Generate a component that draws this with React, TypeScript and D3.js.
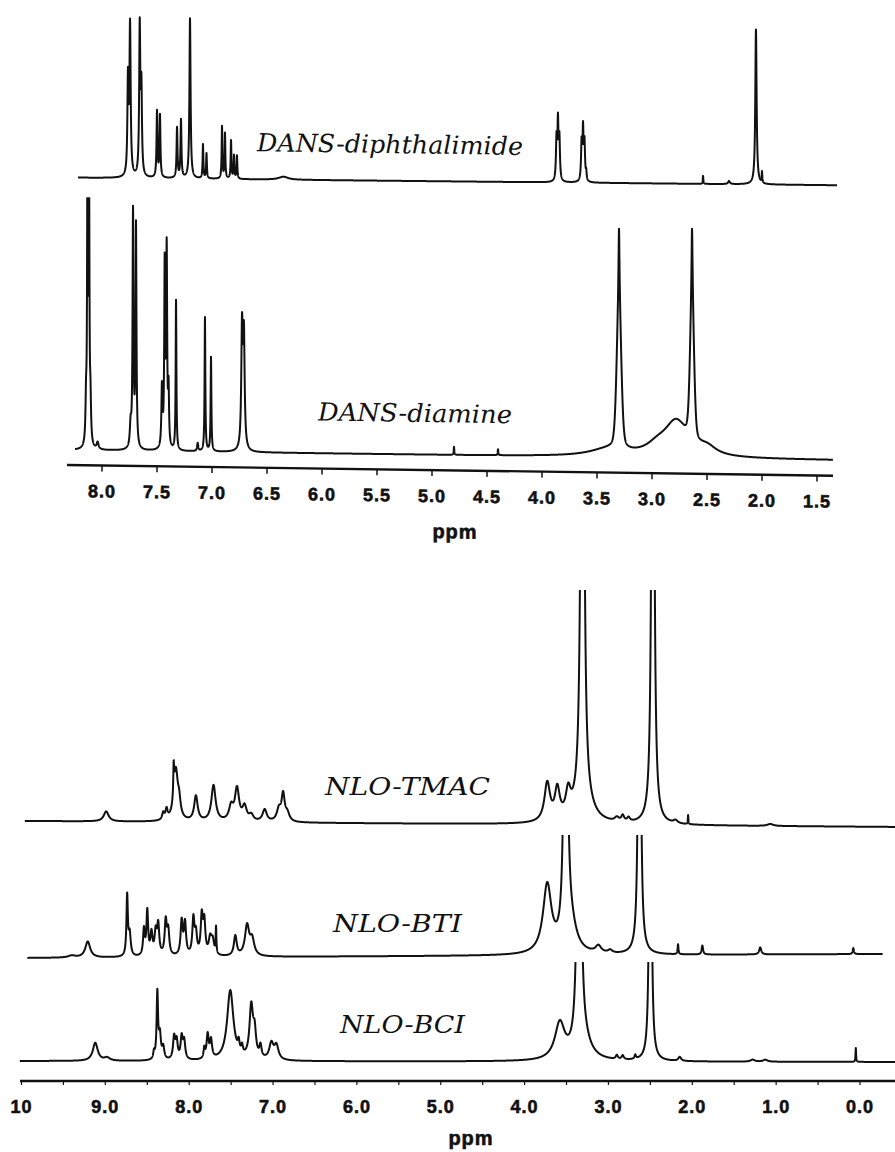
import React, { useEffect, useRef } from 'react'
import * as d3 from 'd3'

// peak lists: [ppm, height, half width (ppm), lorentz fraction]
type Peak = [number, number, number, number?]

const diphthalimidePeaks: Peak[] = [
  [7.764, 95, 0.006], [7.745, 150, 0.0065], [7.657, 148, 0.006], [7.642, 85, 0.006],
  [7.5, 66, 0.005], [7.473, 62, 0.005], [7.318, 50, 0.005], [7.282, 58, 0.005],
  [7.2, 160, 0.006], [7.082, 34, 0.004], [7.05, 25, 0.004], [6.909, 52, 0.004],
  [6.882, 45, 0.004], [6.827, 38, 0.004], [6.8, 23, 0.004], [6.773, 23, 0.004],
  [6.35, 3, 0.05],
  [3.868, 42, 0.006], [3.855, 55, 0.005], [3.842, 42, 0.006],
  [3.64, 38, 0.006], [3.627, 48, 0.005], [3.614, 38, 0.006], [3.598, 8, 0.004],
  [2.536, 8, 0.003], [2.3, 3, 0.01], [2.055, 155, 0.007], [2.0, 11, 0.003],
]

const diaminePeaks: Peak[] = [
  [8.145, 40, 0.006], [8.132, 300, 0.004], [8.118, 300, 0.004], [8.105, 40, 0.006],
  [8.04, 7, 0.01], [7.74, 22, 0.008], [7.718, 235, 0.005], [7.691, 222, 0.005],
  [7.455, 60, 0.006], [7.43, 180, 0.005], [7.412, 195, 0.005], [7.395, 55, 0.005],
  [7.327, 150, 0.004], [7.13, 8, 0.006], [7.064, 134, 0.004], [7.009, 94, 0.004],
  [6.727, 120, 0.008], [6.71, 110, 0.008],
  [4.8, 8, 0.003], [4.4, 6, 0.003],
  [3.4, 7, 0.2], [3.3, 70, 0.005], [3.3, 150, 0.024, 0.3],
  [2.95, 8, 0.12], [2.78, 34, 0.13],
  [2.636, 65, 0.005], [2.636, 145, 0.021, 0.3], [2.5, 8, 0.1],
]

const tmacPeaks: Peak[] = [
  [8.99, 10, 0.035], [8.31, 7, 0.015], [8.27, 10, 0.015], [8.185, 30, 0.006],
  [8.16, 50, 0.03], [8.12, 14, 0.02], [7.92, 25, 0.025], [7.71, 36, 0.03],
  [7.5, 14, 0.03], [7.43, 32, 0.03], [7.34, 14, 0.03], [7.26, 6, 0.03],
  [7.1, 12, 0.03], [6.93, 12, 0.03], [6.88, 26, 0.022], [6.83, 8, 0.03],
  [3.73, 38, 0.04], [3.61, 30, 0.035], [3.48, 24, 0.035], [3.3, 20, 0.12],
  [3.31, 1000, 0.016], [2.9, 4, 0.03], [2.83, 6, 0.02], [2.76, 4, 0.02],
  [2.47, 900, 0.014], [2.2, 3, 0.03], [2.05, 9, 0.004], [1.07, 2, 0.04],
]

const btiPeaks: Peak[] = [
  [9.4, 2, 0.05], [9.21, 16, 0.035], [8.74, 60, 0.01], [8.71, 22, 0.015],
  [8.54, 26, 0.012], [8.5, 44, 0.012], [8.45, 22, 0.015], [8.4, 22, 0.015],
  [8.37, 30, 0.015], [8.28, 34, 0.015], [8.25, 24, 0.015], [8.09, 34, 0.015],
  [8.05, 32, 0.015], [7.95, 36, 0.015], [7.92, 20, 0.015], [7.85, 38, 0.015],
  [7.82, 32, 0.015], [7.75, 16, 0.02], [7.72, 14, 0.02], [7.68, 26, 0.005],
  [7.45, 20, 0.02], [7.31, 30, 0.03], [7.25, 16, 0.03],
  [3.73, 68, 0.06], [3.45, 25, 0.08], [3.51, 600, 0.017], [3.12, 7, 0.04],
  [2.98, 3, 0.03], [2.63, 700, 0.012], [2.17, 10, 0.006], [1.88, 9, 0.01],
  [1.19, 7, 0.015], [0.08, 6, 0.008],
]

const bciPeaks: Peak[] = [
  [9.12, 18, 0.035], [8.98, 3, 0.04], [8.42, 7, 0.01], [8.38, 66, 0.01],
  [8.35, 24, 0.015], [8.31, 12, 0.015], [8.18, 22, 0.015], [8.15, 18, 0.015],
  [8.09, 22, 0.015], [8.06, 18, 0.015], [7.82, 10, 0.01], [7.78, 24, 0.015],
  [7.74, 18, 0.015], [7.51, 70, 0.045], [7.41, 10, 0.012], [7.37, 8, 0.012],
  [7.26, 52, 0.025], [7.22, 24, 0.02], [7.15, 12, 0.015], [7.02, 16, 0.03],
  [6.96, 14, 0.03],
  [3.58, 36, 0.07], [3.3, 18, 0.1], [3.35, 600, 0.0176], [2.9, 4, 0.015],
  [2.83, 4, 0.015], [2.68, 4, 0.01], [2.5, 600, 0.011], [2.15, 4, 0.02],
  [1.28, 2, 0.03], [1.13, 2, 0.03], [0.05, 14, 0.004],
]

const topTicks = [8.0, 7.5, 7.0, 6.5, 6.0, 5.5, 5.0, 4.5, 4.0, 3.5, 3.0, 2.5, 2.0, 1.5]
const bottomTicks = [10, 9, 8, 7, 6, 5, 4, 3, 2, 1, 0]
const bottomTickLabels = ['10', '9.0', '8.0', '7.0', '6.0', '5.0', '4.0', '3.0', '2.0', '1.0', '0.0']
const bottomMinorTicks = [9.5, 8.5, 7.5, 6.5, 5.5, 4.5, 3.5, 2.5, 1.5, 0.5]

type Spectrum = {
  id: string
  label: string
  peaks: Peak[]
  from: number
  to: number
  yLeft: number
  yRight: number
  clipTop?: number
  labelX: number
  labelY: number
  labelW: number
}

function intensity(peaks: Peak[], p: number) {
  let v = 0
  for (const [c, h, w, eta = 1] of peaks) {
    const d2 = (p - c) * (p - c)
    const lor = (w * w) / (w * w + d2)
    const gau = Math.exp((-Math.LN2 * d2) / (w * w))
    v += h * (eta * lor + (1 - eta) * gau)
  }
  return v
}

function sample(peaks: Peak[], from: number, to: number) {
  const pts: [number, number][] = []
  for (let p = from; p > to; p -= 0.001) pts.push([p, intensity(peaks, p)])
  pts.push([to, intensity(peaks, to)])
  return pts
}

const serif = '"DejaVu Serif", "Liberation Serif", serif'
const sans = '"Liberation Sans", Arial, sans-serif'
const ink = '#111'

export default function App() {
  const ref = useRef<SVGSVGElement>(null)

  useEffect(() => {
    const svg = d3.select(ref.current)
    svg.selectAll('*').remove()
    const defs = svg.append('defs')

    const drawSpectrum = (g: d3.Selection<SVGGElement, unknown, null, undefined>,
      x: d3.ScaleLinear<number, number>, s: Spectrum) => {
      const base = d3.scaleLinear().domain([s.from, s.to]).range([s.yLeft, s.yRight])
      const line = d3.line<[number, number]>()
        .x(d => x(d[0]))
        .y(d => base(d[0]) - d[1])
      const path = g.append('path')
        .datum(sample(s.peaks, s.from, s.to))
        .attr('d', line)
        .attr('fill', 'none')
        .attr('stroke', ink)
        .attr('stroke-width', 2)
        .attr('stroke-linejoin', 'round')
      if (s.clipTop !== undefined) {
        defs.append('clipPath').attr('id', 'clip-' + s.id)
          .append('rect')
          .attr('x', 0).attr('y', s.clipTop)
          .attr('width', 900).attr('height', 1200)
        path.attr('clip-path', `url(#clip-${s.id})`)
      }
      g.append('text')
        .attr('x', s.labelX)
        .attr('y', s.labelY)
        .attr('textLength', s.labelW)
        .attr('lengthAdjust', 'spacingAndGlyphs')
        .attr('font-family', serif)
        .attr('font-style', 'italic')
        .attr('font-size', 25)
        .attr('fill', ink)
        .text(s.label)
    }

    const tickText = (sel: d3.Selection<SVGTextElement, any, any, any>, size: number) =>
      sel.attr('text-anchor', 'middle')
        .attr('font-family', sans).attr('font-weight', 700).attr('font-size', size)
        .attr('fill', ink).attr('stroke', ink).attr('stroke-width', 0.6)
        .attr('letter-spacing', 1)

    // ---- top panel (scan is slightly tilted) ----
    const top = svg.append('g').attr('transform', 'translate(67,0) skewY(0.8) translate(-67,0)')
    const xTop = d3.scaleLinear().domain([8, 1.5]).range([102, 817])

    drawSpectrum(top, xTop, {
      id: 'diph', label: 'DANS-diphthalimide', peaks: diphthalimidePeaks,
      from: 8.218, to: 1.318, yLeft: 177.5, yRight: 174.5,
      labelX: 257, labelY: 148.5, labelW: 266,
    })
    drawSpectrum(top, xTop, {
      id: 'diam', label: 'DANS-diamine', peaks: diaminePeaks,
      from: 8.245, to: 1.355, yLeft: 450, yRight: 449.5, clipTop: 197,
      labelX: 318, labelY: 417, labelW: 194,
    })

    top.append('line')
      .attr('x1', 67).attr('x2', 833).attr('y1', 465).attr('y2', 465)
      .attr('stroke', ink).attr('stroke-width', 2.4)
    top.selectAll('.ttick').data(topTicks).enter().append('line')
      .attr('x1', d => xTop(d)).attr('x2', d => xTop(d))
      .attr('y1', 465).attr('y2', 471)
      .attr('stroke', ink).attr('stroke-width', 1.5)
    tickText(top.selectAll('.tlab').data(topTicks).enter().append('text')
      .attr('x', d => xTop(d)).attr('y', 497)
      .text(d => d3.format('.1f')(d)), 18)
    tickText(top.append('text').attr('x', 455).attr('y', 533).text('ppm'), 20)

    // ---- bottom panel ----
    const bot = svg.append('g')
    const xBot = d3.scaleLinear().domain([10, 0]).range([21.5, 860])

    drawSpectrum(bot, xBot, {
      id: 'tmac', label: 'NLO-TMAC', peaks: tmacPeaks,
      from: 9.96, to: -0.42, yLeft: 821, yRight: 827, clipTop: 590,
      labelX: 325, labelY: 795, labelW: 165,
    })
    drawSpectrum(bot, xBot, {
      id: 'bti', label: 'NLO-BTI', peaks: btiPeaks,
      from: 9.93, to: -0.27, yLeft: 958, yRight: 954, clipTop: 835,
      labelX: 333, labelY: 932, labelW: 129,
    })
    drawSpectrum(bot, xBot, {
      id: 'bci', label: 'NLO-BCI', peaks: bciPeaks,
      from: 10.02, to: -0.42, yLeft: 1061, yRight: 1062, clipTop: 962,
      labelX: 340, labelY: 1033, labelW: 125,
    })

    bot.append('line')
      .attr('x1', 20).attr('x2', 895).attr('y1', 1081).attr('y2', 1081)
      .attr('stroke', ink).attr('stroke-width', 2.4)
    bot.selectAll('.btick').data([...bottomTicks, ...bottomMinorTicks]).enter().append('line')
      .attr('x1', d => xBot(d)).attr('x2', d => xBot(d))
      .attr('y1', 1081).attr('y2', 1085)
      .attr('stroke', ink).attr('stroke-width', 1.2)
    tickText(bot.selectAll('.blab').data(bottomTicks).enter().append('text')
      .attr('x', d => xBot(d)).attr('y', 1113)
      .text((d, i) => bottomTickLabels[i]), 18)
    tickText(bot.append('text').attr('x', 471).attr('y', 1145).text('ppm'), 20)
  }, [])

  return (
    <svg ref={ref} width={895} height={1152}
      style={{ position: 'absolute', left: 0, top: 0, background: '#fff' }} />
  )
}
